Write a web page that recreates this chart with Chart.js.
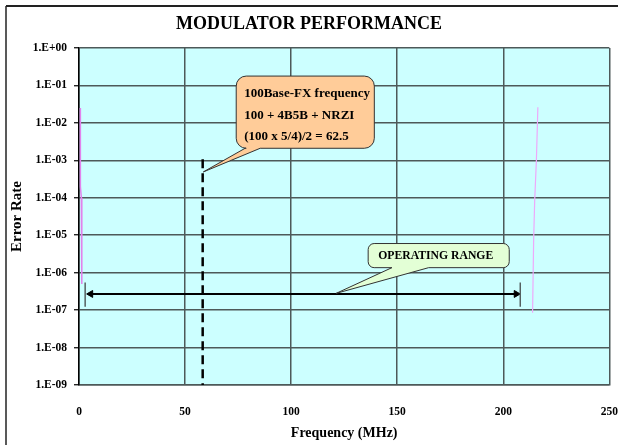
<!DOCTYPE html>
<html>
<head>
<meta charset="utf-8">
<script src="https://cdn.jsdelivr.net/npm/chart.js@4/dist/chart.umd.min.js"></script>
<style>
html, body { margin: 0; padding: 0; background: #fff; }
#wrap { width: 618px; height: 445px; }
</style>
</head>
<body>
<div id="wrap"><canvas id="c" width="618" height="445"></canvas></div>
<script>
// ---------- texts ----------
const chartTitle = 'MODULATOR PERFORMANCE';
const xAxisTitle = 'Frequency (MHz)';
const yAxisTitle = 'Error Rate';
const fxNoteLines = ['100Base-FX frequency', '100 + 4B5B + NRZI', '(100 x 5/4)/2 = 62.5'];
const rangeNote = 'OPERATING RANGE';

// ---------- ticks ----------
const xTickValues = [0, 50, 100, 150, 200, 250];
const yTickExponents = [0, -1, -2, -3, -4, -5, -6, -7, -8, -9];
const yTickLabels = ['1.E+00', '1.E-01', '1.E-02', '1.E-03', '1.E-04', '1.E-05', '1.E-06', '1.E-07', '1.E-08', '1.E-09'];

// ---------- series ----------
const lowEdgeFreq = [0.6, 0.65, 1.1, 1.3, 1.35];
const lowEdgeErr  = [2.5e-2, 2e-4, 1e-4, 5e-6, 5e-7];
const highEdgeFreq = [216.3, 215.6, 214.8, 214.3, 213.8];
const highEdgeErr  = [2.6e-2, 1e-3, 8.5e-5, 7.2e-6, 8.5e-8];

const fxFreq = [58.3, 58.3];
const fxErr  = [1.07e-3, 1e-9];

const rangeFreq = [5.5, 206.1];
const rangeErr  = [2.7e-7, 2.7e-7];
const rangeStartFreq = [2.9, 2.9];
const rangeStopFreq  = [208, 208];
const rangeBarErr    = [5.5e-7, 1.23e-7];

// ---------- helpers ----------
const fontFamily = "'Liberation Serif', 'Times New Roman', Times, serif";
function pts(xs, ys) { return xs.map((x, i) => ({ x: x, y: ys[i] })); }

// callouts placed in data units (freq, error rate)
const callouts = [
  { x1: 74.1, y1: 0.178, x2: 139.2, y2: 2.1e-3, tipX: 58.6, tipY: 4.9e-4, baseX1: 78.3, baseX2: 85.4,
    fill: '#FFCC99', radius: 10, lines: fxNoteLines, size: 13, align: 'left', textInset: 8, firstLine: 17.5, lineGap: 21.7 },
  { x1: 136.3, y1: 6e-6, x2: 202.8, y2: 1.36e-6, tipX: 121.2, tipY: 2.8e-7, baseX1: 147.5, baseX2: 164.8,
    fill: '#E3FFD6', radius: 6, lines: [rangeNote], size: 11.7, align: 'center', textInset: 0, firstLine: null, lineGap: 0 }
];

const backgroundPlugin = {
  id: 'bg',
  beforeDraw(chart) {
    const { ctx, chartArea: a, width, height } = chart;
    ctx.save();
    ctx.fillStyle = '#ffffff';
    ctx.fillRect(0, 0, width, height);
    ctx.fillStyle = '#CCFFFF';
    ctx.fillRect(a.left, a.top, a.right - a.left, a.bottom - a.top);
    ctx.strokeStyle = '#222';
    ctx.lineWidth = 2;
    ctx.beginPath(); ctx.moveTo(6, 6); ctx.lineTo(width, 6); ctx.stroke();
    ctx.lineWidth = 1.5;
    ctx.beginPath(); ctx.moveTo(6, 6); ctx.lineTo(6, height); ctx.stroke();
    ctx.restore();
  }
};

const calloutPlugin = {
  id: 'callouts',
  afterDatasetsDraw(chart) {
    const { ctx, scales } = chart;
    const sx = scales.x, sy = scales.y;
    callouts.forEach(c => {
      const x1 = sx.getPixelForValue(c.x1), x2 = sx.getPixelForValue(c.x2);
      const y1 = sy.getPixelForValue(c.y1), y2 = sy.getPixelForValue(c.y2);
      const tx = sx.getPixelForValue(c.tipX), ty = sy.getPixelForValue(c.tipY);
      const b1 = sx.getPixelForValue(c.baseX1), b2 = sx.getPixelForValue(c.baseX2);
      const r = c.radius;
      ctx.save();
      ctx.beginPath();
      ctx.moveTo(x1 + r, y1);
      ctx.lineTo(x2 - r, y1);
      ctx.arcTo(x2, y1, x2, y1 + r, r);
      ctx.lineTo(x2, y2 - r);
      ctx.arcTo(x2, y2, x2 - r, y2, r);
      ctx.lineTo(b2, y2);
      ctx.lineTo(tx, ty);
      ctx.lineTo(b1, y2);
      ctx.lineTo(x1 + r, y2);
      ctx.arcTo(x1, y2, x1, y2 - r, r);
      ctx.lineTo(x1, y1 + r);
      ctx.arcTo(x1, y1, x1 + r, y1, r);
      ctx.closePath();
      ctx.fillStyle = c.fill;
      ctx.fill();
      ctx.strokeStyle = '#333';
      ctx.lineWidth = 1;
      ctx.stroke();
      ctx.fillStyle = '#000';
      ctx.font = 'bold ' + c.size + 'px ' + fontFamily;
      ctx.textBaseline = 'middle';
      if (c.align === 'left') {
        ctx.textAlign = 'left';
        c.lines.forEach((t, i) => ctx.fillText(t, x1 + c.textInset, y1 + c.firstLine + i * c.lineGap));
      } else {
        ctx.textAlign = 'center';
        ctx.fillText(c.lines[0], (x1 + x2) / 2 - 3, (y1 + y2) / 2 + 0.5);
      }
      ctx.restore();
    });
  }
};

const gridColor = '#4d5959';
const tickFont = { family: fontFamily, size: 11.5, weight: 'bold' };

const line = (data, color, width, extra) => Object.assign({
  data: data, showLine: true, borderColor: color, backgroundColor: color,
  borderWidth: width, pointRadius: 0, tension: 0, fill: false
}, extra || {});

new Chart(document.getElementById('c'), {
  type: 'scatter',
  data: {
    datasets: [
      line(pts(lowEdgeFreq, lowEdgeErr), 'rgb(226,130,236)', 1.5),
      line(pts(highEdgeFreq, highEdgeErr), 'rgb(238,168,250)', 1.2),
      line(pts(fxFreq, fxErr), '#000', 2.5, { borderDash: [9, 5] }),
      line(pts(rangeStartFreq, rangeBarErr), '#556060', 1.5),
      line(pts(rangeStopFreq, rangeBarErr), '#556060', 1.5),
      line(pts(rangeFreq, rangeErr), '#000', 2, {
        pointRadius: 4, pointStyle: 'triangle', pointRotation: [270, 90],
        pointBackgroundColor: '#000', pointBorderColor: '#000', pointBorderWidth: 1
      })
    ]
  },
  options: {
    responsive: false,
    animation: false,
    events: [],
    layout: { padding: { left: 0, right: 0, top: 0, bottom: 0 } },
    plugins: {
      legend: { display: false },
      tooltip: { enabled: false },
      title: {
        display: true, text: chartTitle, color: '#000',
        font: { family: fontFamily, size: 18, weight: 'bold' },
        padding: { top: 14, bottom: 12.4 }
      }
    },
    scales: {
      x: {
        type: 'linear', min: 0, max: 250,
        afterBuildTicks: s => { s.ticks = xTickValues.map(v => ({ value: v })); },
        ticks: { color: '#000', font: tickFont, padding: 0, maxRotation: 0, autoSkip: false },
        grid: { color: gridColor, lineWidth: 1.5, drawTicks: true, tickLength: 20, tickColor: 'rgba(0,0,0,0)' },
        border: { display: true, color: gridColor, width: 1.5 },
        title: {
          display: true, text: xAxisTitle, color: '#000',
          font: { family: fontFamily, size: 14, weight: 'bold' },
          padding: { top: 0, bottom: 3 }
        },
        afterFit: s => { s.height = 60; }
      },
      y: {
        type: 'logarithmic', min: 1e-9, max: 1,
        afterBuildTicks: s => { s.ticks = yTickExponents.slice().reverse().map(e => ({ value: Math.pow(10, e) })); },
        ticks: {
          color: '#000', font: tickFont, padding: 7, autoSkip: false,
          callback: v => yTickLabels[-Math.round(Math.log10(v))]
        },
        grid: { color: gridColor, lineWidth: 1.5, tickLength: 5, tickColor: '#000', tickWidth: 1.2 },
        border: { display: true, color: '#000', width: 1.5 },
        title: {
          display: true, text: yAxisTitle, color: '#000',
          font: { family: fontFamily, size: 15, weight: 'bold' },
          padding: { top: 8, bottom: 0 }
        },
        afterFit: s => { s.width = 79; }
      }
    }
  },
  plugins: [backgroundPlugin, calloutPlugin]
});
</script>
</body>
</html>
